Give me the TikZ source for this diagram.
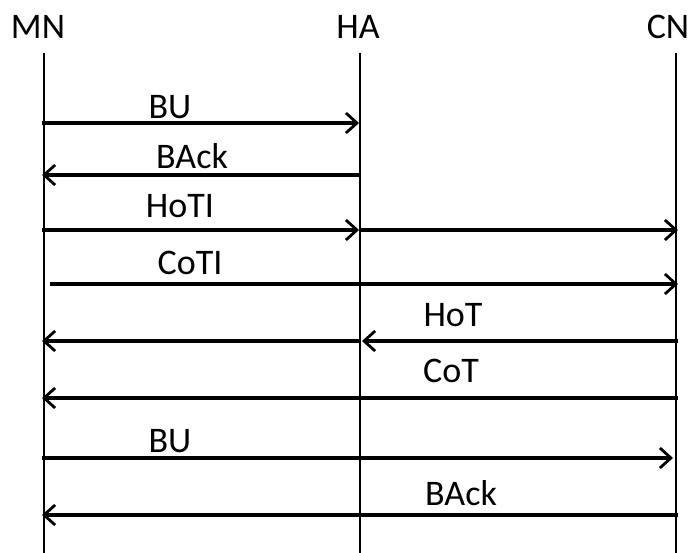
\documentclass[tikz,border=0pt]{standalone}
\usepackage{fontspec}
\setmainfont{Carlito}
\usetikzlibrary{arrows.meta}

\begin{document}
\begin{tikzpicture}[x=1pt,y=-1pt,>={Straight Barb[length=11pt,width=20pt,line width=2.8pt]},
                    msg/.style={->,line width=3.3pt},
                    life/.style={line width=1.2pt},
                    lbl/.style={font=\fontsize{36}{40}\selectfont,inner sep=0pt}]
  \useasboundingbox (0,0) rectangle (694,553);

  \node[lbl] (MN) at (38,27)  {MN};
  \node[lbl] (HA) at (358,27) {HA};
  \node[lbl] (CN) at (668,27) {CN};

  \coordinate (mnend) at (44,553);
  \coordinate (haend) at (360,553);
  \coordinate (cnend) at (676,553);
  \draw[life] (44,53) -- (mnend);
  \draw[life] (360,53) -- (haend);
  \draw[life] (676,53) -- (cnend);

  % message rows
  \foreach \i/\y in {1/123,2/175,3/230,4/284,5/341,6/398,7/458,8/515}{
    \coordinate (mn\i) at (42,\y);
    \coordinate (ha\i) at (359,\y);
    \coordinate (cn\i) at (678,\y);
  }

  \draw[msg] (mn1) -- (ha1);
  \draw[msg] (ha2) -- (mn2);
  \draw[msg] (mn3) -- (ha3);
  \draw[msg] (ha3) -- (cn3);
  \draw[msg] ([xshift=8pt]mn4) -- (cn4);
  \draw[msg] (cn5) -- ([xshift=3pt]ha5);
  \draw[msg] (ha5) -- (mn5);
  \draw[msg] (cn6) -- (mn6);
  \draw[msg] (mn7) -- ([xshift=-5pt]cn7);
  \draw[msg] (cn8) -- (mn8);

  \node[lbl] (bu)   at (170,107) {BU};
  \node[lbl] (back) at (192,156) {BAck};
  \node[lbl] (hoti) at (180,206) {HoTI};
  \node[lbl] (coti) at (190,263) {CoTI};
  \node[lbl] (hot)  at (453,315) {HoT};
  \node[lbl] (cot)  at (451,371) {CoT};
  \node[lbl] (bu2)  at (170,441) {BU};
  \node[lbl] (back2) at (461,493) {BAck};
\end{tikzpicture}
\end{document}
